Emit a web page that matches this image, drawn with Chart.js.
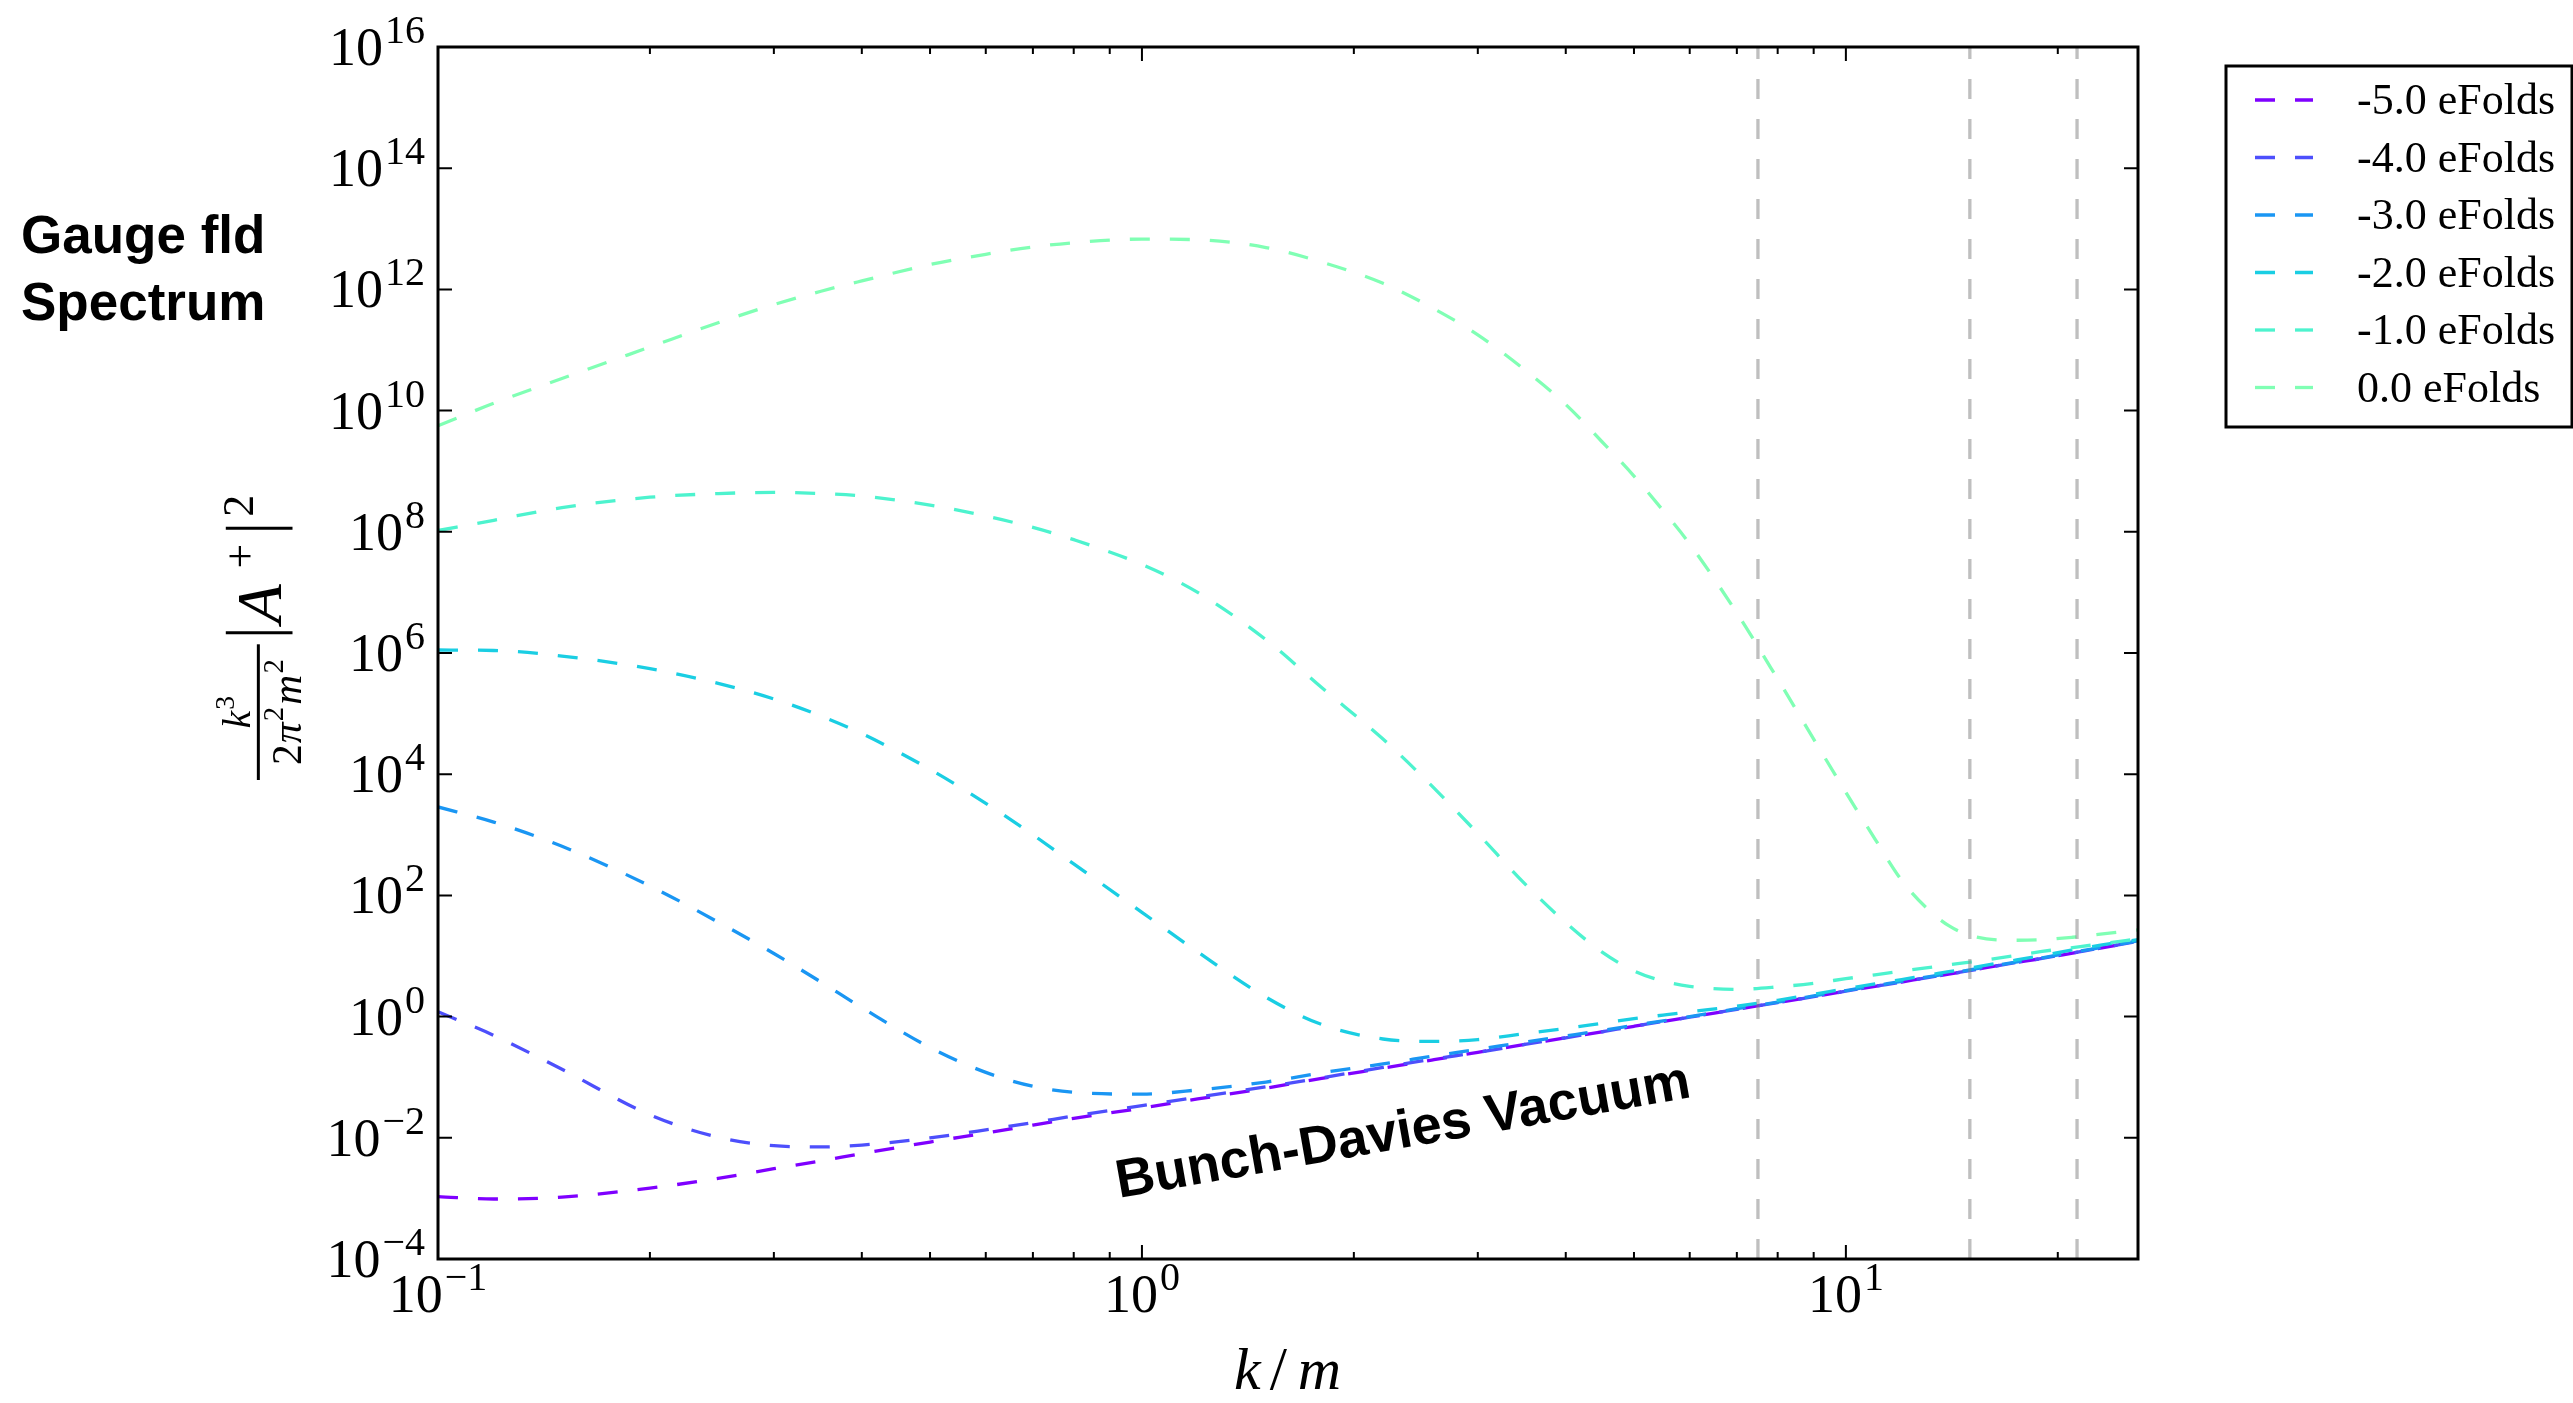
<!DOCTYPE html>
<html>
<head>
<meta charset="utf-8">
<script src="https://cdn.jsdelivr.net/npm/chart.js@4/dist/chart.umd.min.js"></script>
<style>
html,body{margin:0;padding:0;background:#ffffff;overflow:hidden}
#wrap{width:2573px;height:1403px;position:relative}
</style>
</head>
<body>
<div id="wrap"><canvas id="c" width="2573" height="1403"></canvas></div>
<script>
// ---------------- data ----------------
const kValues = [0.1, 0.12, 0.15, 0.2, 0.25, 0.3, 0.35, 0.4, 0.5, 0.6, 0.7, 0.8, 1.0, 1.2, 1.5, 1.8, 2.2, 2.6, 3.0, 3.5, 4.0, 4.5, 5.0, 5.5, 6.0, 7.0, 8.0, 9.0, 10, 11, 12, 13, 14, 15, 17, 19, 21, 23, 26];

const seriesLabels = ['-5.0 eFolds', '-4.0 eFolds', '-3.0 eFolds', '-2.0 eFolds', '-1.0 eFolds', '0.0 eFolds'];
const seriesColors = ['#7f00ff', '#4d4ffc', '#1a96f3', '#1acee3', '#4df3ce', '#80ffb4'];

const efoldsM5 = [1.07e-3, 9.77e-4, 1.05e-3, 1.48e-3, 2.14e-3, 3.09e-3, 4.17e-3, 5.50e-3, 8.51e-3, 1.20e-2, 1.62e-2, 2.09e-2, 3.09e-2, 4.37e-2, 6.61e-2, 9.55e-2, 0.141, 0.195, 0.257, 0.347, 0.447, 0.562, 0.692, 0.832, 0.977, 1.32, 1.70, 2.14, 2.63, 3.16, 3.72, 4.37, 5.01, 5.75, 7.41, 9.12, 11.2, 13.5, 17.4];
const efoldsM4 = [1.20, 0.490, 0.135, 0.0240, 0.0102, 0.00741, 0.00708, 0.00759, 0.0100, 0.0135, 0.0178, 0.0229, 0.0339, 0.0468, 0.0692, 0.0977, 0.145, 0.200, 0.257, 0.347, 0.447, 0.562, 0.692, 0.832, 0.977, 1.32, 1.70, 2.14, 2.63, 3.16, 3.72, 4.37, 5.01, 5.75, 7.41, 9.12, 11.2, 13.5, 17.4];
const efoldsM3 = [2884, 1622, 646, 143, 36.3, 11.0, 3.72, 1.41, 0.309, 0.120, 0.0708, 0.0562, 0.0525, 0.0617, 0.0832, 0.118, 0.166, 0.224, 0.288, 0.380, 0.479, 0.589, 0.716, 0.851, 1.00, 1.35, 1.74, 2.19, 2.69, 3.24, 3.80, 4.47, 5.13, 5.89, 7.59, 9.33, 11.5, 13.8, 17.8];
const efoldsM2 = [1.12e6, 1.10e6, 8.91e5, 5.50e5, 3.16e5, 1.74e5, 9.12e4, 4.68e4, 1.20e4, 3.31e3, 1.00e3, 331, 52.5, 11.7, 2.09, 0.741, 0.427, 0.389, 0.417, 0.525, 0.638, 0.776, 0.923, 1.06, 1.20, 1.48, 1.86, 2.34, 2.88, 3.47, 4.07, 4.79, 5.50, 6.31, 8.13, 10.2, 12.6, 15.1, 18.6];
const efoldsM1 = [1.05e8, 1.55e8, 2.51e8, 3.72e8, 4.27e8, 4.47e8, 4.27e8, 3.89e8, 2.75e8, 1.82e8, 1.18e8, 7.41e7, 2.88e7, 1.00e7, 1.66e6, 2.69e5, 3.80e4, 5.89e3, 1.05e3, 155, 35.5, 11.7, 5.69, 3.85, 3.16, 2.82, 3.09, 3.55, 4.22, 4.90, 5.62, 6.38, 7.16, 7.94, 9.77, 11.9, 13.8, 15.8, 19.1];
const efolds0  = [5.62e9, 1.32e10, 3.39e10, 1.12e11, 2.82e11, 5.62e11, 9.33e11, 1.38e12, 2.57e12, 3.80e12, 5.01e12, 5.89e12, 6.76e12, 6.61e12, 4.90e12, 2.82e12, 1.26e12, 4.79e11, 1.78e11, 4.68e10, 1.26e10, 3.09e9, 8.32e8, 2.24e8, 6.31e7, 4.57e6, 3.72e5, 3.80e4, 5.01e3, 851, 178, 63.1, 31.6, 21.9, 18.2, 18.6, 20.4, 22.9, 26.9];

const vlineK = [7.5, 15, 21.3];

const xRange = [0.1, 26];
const yRange = [1e-4, 1e16];
const yTickExponents = [-4, -2, 0, 2, 4, 6, 8, 10, 12, 14, 16];
const xMajorExponents = [-1, 0, 1];
const xMinorTicks = [0.2, 0.3, 0.4, 0.5, 0.6, 0.7, 0.8, 0.9, 2, 3, 4, 5, 6, 7, 8, 9, 20];

const titleLines = ['Gauge fld', 'Spectrum'];
const annotation = { text: 'Bunch-Davies Vacuum', k: 2.37, value: 6.9e-3, angleDeg: -10 };

// ---------------- chart ----------------
const seriesValues = [efoldsM5, efoldsM4, efoldsM3, efoldsM2, efoldsM1, efolds0];

const datasets = seriesValues.map((vals, i) => ({
  label: seriesLabels[i],
  data: kValues.map((k, j) => ({ x: k, y: vals[j] })),
  borderColor: seriesColors[i],
  backgroundColor: seriesColors[i],
  borderWidth: 3.3,
  borderDash: [20, 20],
  pointRadius: 0,
  fill: false,
  cubicInterpolationMode: 'monotone',
  order: seriesValues.length - i + 1,
  isSeries: true
}));
vlineK.forEach(k => datasets.push({
  label: '',
  data: [{ x: k, y: yRange[0] }, { x: k, y: yRange[1] }],
  borderColor: 'rgba(128,128,128,0.5)',
  borderWidth: 3.3,
  borderDash: [20, 20],
  pointRadius: 0,
  fill: false,
  order: 0,
  isSeries: false
}));

const SERIF = "'Liberation Serif', 'DejaVu Serif', serif";
const SANS = "'Liberation Sans', Arial, sans-serif";

function expText(e) { return e < 0 ? '\u2212' + (-e) : String(e); }

function drawPower(ctx, e, x, baseY, align) {
  const base = '10', sup = expText(e);
  ctx.font = '54px ' + SERIF;
  const wb = ctx.measureText(base).width;
  ctx.font = '40px ' + SERIF;
  const ws = ctx.measureText(sup).width;
  const total = wb + 2 + ws;
  const x0 = align === 'right' ? x - total : x - total / 2;
  ctx.textAlign = 'left';
  ctx.textBaseline = 'alphabetic';
  ctx.font = '54px ' + SERIF;
  ctx.fillText(base, x0, baseY);
  ctx.font = '40px ' + SERIF;
  ctx.fillText(sup, x0 + wb + 2, baseY - 22);
}

function drawSeq(ctx, parts, x, baseY) {
  let cx = x;
  parts.forEach(p => {
    ctx.font = p.f;
    ctx.fillText(p.t, cx + (p.dx || 0), baseY + (p.dy || 0));
    cx += ctx.measureText(p.t).width + (p.dx || 0) + (p.gap || 0);
  });
  return cx;
}
function seqWidth(ctx, parts) {
  let w = 0;
  parts.forEach(p => { ctx.font = p.f; w += ctx.measureText(p.t).width + (p.dx || 0) + (p.gap || 0); });
  return w;
}

const decorPlugin = {
  id: 'decor',
  afterDraw(chart) {
    const { ctx, chartArea: a } = chart;
    const xs = chart.scales.x, ys = chart.scales.y;
    ctx.save();
    ctx.fillStyle = '#000';
    ctx.strokeStyle = '#000';
    ctx.setLineDash([]);

    // frame
    ctx.lineWidth = 3;
    ctx.strokeRect(a.left, a.top, a.right - a.left, a.bottom - a.top);

    // y ticks (inward, both sides)
    ctx.lineWidth = 2;
    yTickExponents.forEach(e => {
      const py = ys.getPixelForValue(Math.pow(10, e));
      ctx.beginPath();
      ctx.moveTo(a.left, py); ctx.lineTo(a.left + 14, py);
      ctx.moveTo(a.right, py); ctx.lineTo(a.right - 14, py);
      ctx.stroke();
      drawPower(ctx, e, a.left - 13, py + 18, 'right');
    });
    // x major ticks
    xMajorExponents.forEach(e => {
      const px = xs.getPixelForValue(Math.pow(10, e));
      ctx.beginPath();
      ctx.moveTo(px, a.bottom); ctx.lineTo(px, a.bottom - 14);
      ctx.moveTo(px, a.top); ctx.lineTo(px, a.top + 14);
      ctx.stroke();
      drawPower(ctx, e, px, a.bottom + 53, 'center');
    });
    // x minor ticks
    xMinorTicks.forEach(k => {
      const px = xs.getPixelForValue(k);
      ctx.beginPath();
      ctx.moveTo(px, a.bottom); ctx.lineTo(px, a.bottom - 7);
      ctx.moveTo(px, a.top); ctx.lineTo(px, a.top + 7);
      ctx.stroke();
    });

    // x axis title k/m
    const cx = (a.left + a.right) / 2;
    ctx.textAlign = 'left';
    ctx.textBaseline = 'alphabetic';
    drawSeq(ctx, [
      { t: 'k', f: 'italic 60px ' + SERIF, gap: 9 },
      { t: '/', f: '62px ' + SERIF, gap: 11 },
      { t: 'm', f: 'italic 60px ' + SERIF }
    ], cx - 54, a.bottom + 130);

    // y axis title: k^3/(2 pi^2 m^2) |A^+|^2 (rotated)
    const cy = (a.top + a.bottom) / 2;
    ctx.save();
    ctx.translate(281, cy + 127);
    ctx.rotate(-Math.PI / 2);
    ctx.scale(1.15, 1.15);
    ctx.textAlign = 'left';
    ctx.textBaseline = 'alphabetic';
    const fracW = 118;
    ctx.fillRect(0, -21, fracW, 2.6);
    const num = [
      { t: 'k', f: 'italic 34px ' + SERIF, gap: 1 },
      { t: '3', f: '24px ' + SERIF, dy: -14 }
    ];
    drawSeq(ctx, num, (fracW - seqWidth(ctx, num)) / 2, -27);
    const den = [
      { t: '2', f: '36px ' + SERIF, gap: 1 },
      { t: '\u03c0', f: 'italic 36px ' + SERIF, gap: 1 },
      { t: '2', f: '25px ' + SERIF, dy: -15, gap: 2 },
      { t: 'm', f: 'italic 36px ' + SERIF, gap: 1 },
      { t: '2', f: '25px ' + SERIF, dy: -15 }
    ];
    drawSeq(ctx, den, (fracW - seqWidth(ctx, den)) / 2, 17);
    // |A+|^2
    ctx.lineWidth = 2.6;
    ctx.beginPath();
    ctx.moveTo(128, -48); ctx.lineTo(128, 10);
    ctx.moveTo(219, -48); ctx.lineTo(219, 10);
    ctx.stroke();
    ctx.font = 'italic 56px ' + SERIF;
    ctx.fillText('A', 136, 0);
    ctx.font = '38px ' + SERIF;
    ctx.fillText('+', 184, -23);
    ctx.fillText('2', 229, -24);
    ctx.restore();

    // left title
    ctx.textAlign = 'left';
    ctx.textBaseline = 'alphabetic';
    ctx.font = 'bold 53px ' + SANS;
    titleLines.forEach((t, i) => ctx.fillText(t, 21, 253 + i * 67));

    // annotation along the vacuum line
    ctx.save();
    ctx.translate(xs.getPixelForValue(annotation.k), ys.getPixelForValue(annotation.value));
    ctx.rotate(annotation.angleDeg * Math.PI / 180);
    ctx.font = 'bold 54px ' + SANS;
    ctx.textAlign = 'center';
    ctx.textBaseline = 'alphabetic';
    ctx.fillText(annotation.text, 0, 0);
    ctx.restore();

    // legend
    const items = chart.data.datasets.filter(d => d.isSeries);
    const lx = 2226, ly = 66, lw = 346, lh = 361;
    ctx.fillStyle = '#fff';
    ctx.fillRect(lx, ly, lw, lh);
    ctx.lineWidth = 3;
    ctx.strokeStyle = '#000';
    ctx.strokeRect(lx, ly, lw, lh);
    items.forEach((d, i) => {
      const rowY = 100 + i * 57.5;
      ctx.save();
      ctx.strokeStyle = d.borderColor;
      ctx.lineWidth = 3.3;
      ctx.setLineDash(d.borderDash);
      ctx.beginPath();
      ctx.moveTo(2255, rowY); ctx.lineTo(2313, rowY);
      ctx.stroke();
      ctx.restore();
      ctx.fillStyle = '#000';
      ctx.font = '44px ' + SERIF;
      ctx.textAlign = 'left';
      ctx.textBaseline = 'alphabetic';
      ctx.fillText(d.label, 2357, rowY + 14);
    });
    ctx.restore();
  }
};

new Chart(document.getElementById('c'), {
  type: 'line',
  data: { datasets },
  options: {
    responsive: false,
    animation: false,
    devicePixelRatio: 1,
    events: [],
    layout: { padding: { left: 438, top: 47, right: 435, bottom: 144 } },
    plugins: { legend: { display: false }, tooltip: { enabled: false } },
    scales: {
      x: { type: 'logarithmic', min: xRange[0], max: xRange[1], display: false },
      y: { type: 'logarithmic', min: yRange[0], max: yRange[1], display: false }
    }
  },
  plugins: [decorPlugin]
});
</script>
</body>
</html>
